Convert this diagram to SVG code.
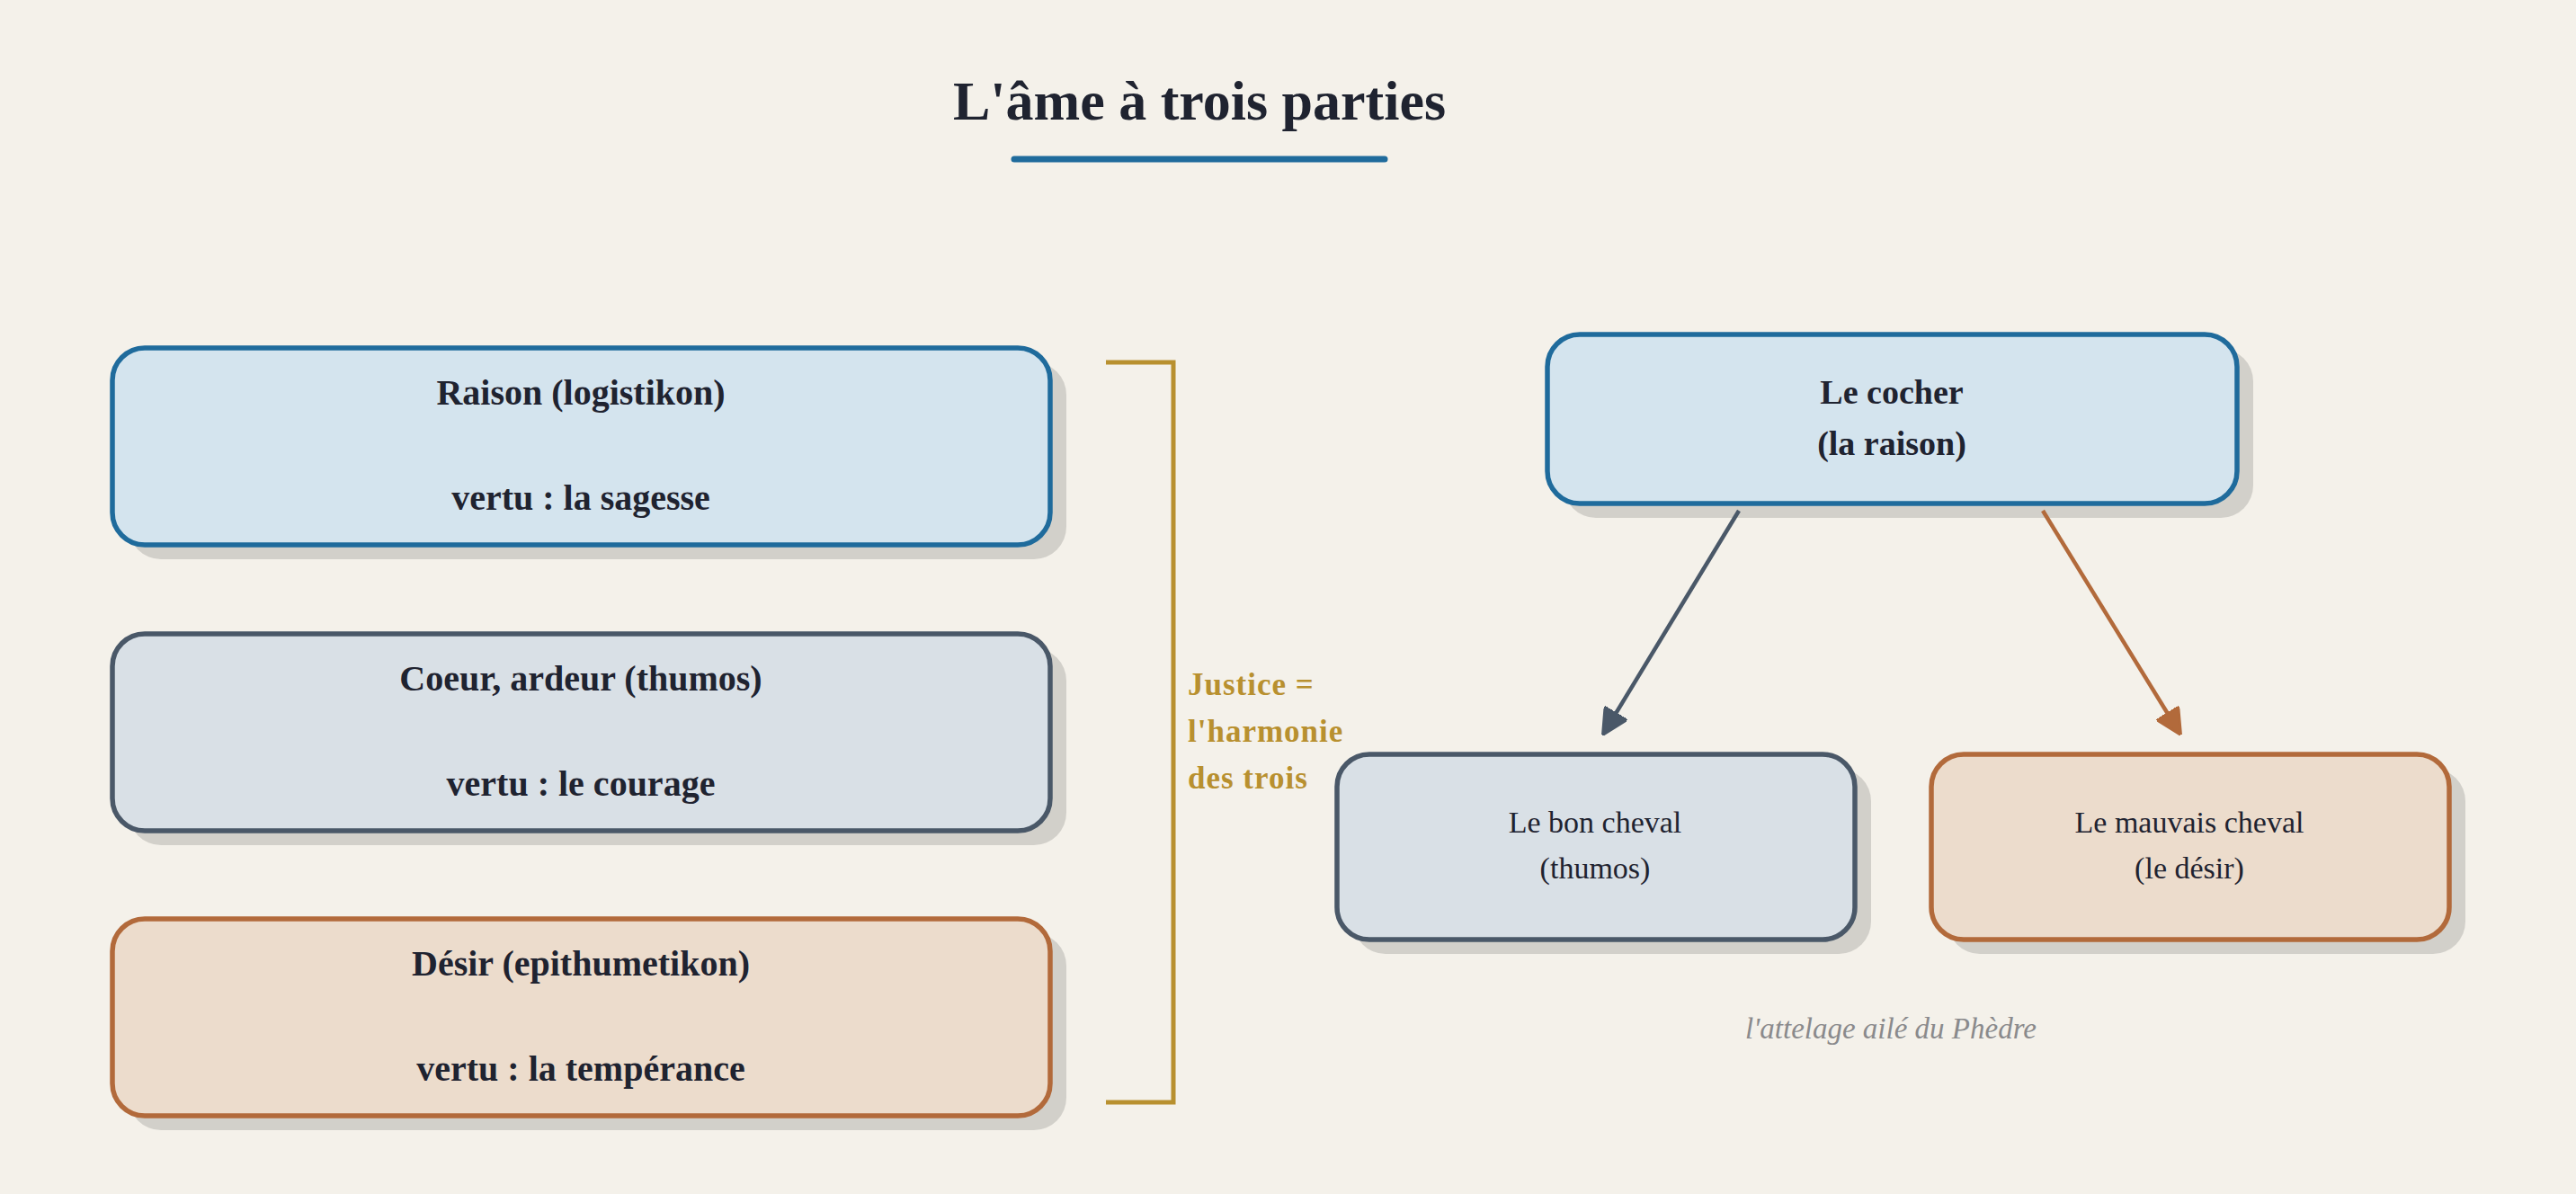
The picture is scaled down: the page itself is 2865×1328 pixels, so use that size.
<svg xmlns="http://www.w3.org/2000/svg" width="2865" height="1328" viewBox="0 0 2865 1328">
<style>
.bg{fill:#f4f1ea}
.sh{fill:#d2d0ca}
.blue{fill:#d4e4ee;stroke:#1f6b9c;stroke-width:5.5}
.slate{fill:#d9e0e6;stroke:#4a5868;stroke-width:5.5}
.orange{fill:#ecdccc;stroke:#b26a3b;stroke-width:5.5}
.tb{font-family:"Liberation Serif",serif;font-weight:bold;fill:#1f2330;text-anchor:middle}
.tn{font-family:"Liberation Serif",serif;fill:#1f2330;text-anchor:middle}
.gold{font-family:"Liberation Serif",serif;font-weight:bold;fill:#b8902f;font-size:35px;letter-spacing:1px}
</style>
<defs>
<marker id="ah-slate" viewBox="0 0 10 10" refX="9" refY="5" markerWidth="6.5" markerHeight="6.5" markerUnits="strokeWidth" orient="auto">
<path d="M0,0 L10,5 L0,10 z" fill="#4a5868" stroke="#4a5868" stroke-linejoin="round"/>
</marker>
<marker id="ah-orange" viewBox="0 0 10 10" refX="9" refY="5" markerWidth="6.5" markerHeight="6.5" markerUnits="strokeWidth" orient="auto">
<path d="M0,0 L10,5 L0,10 z" fill="#b26a3b" stroke="#b26a3b" stroke-linejoin="round"/>
</marker>
</defs>
<rect class="bg" x="0" y="0" width="2865" height="1328"/>
<g id="title">
<text class="tb" x="1334" y="133" font-size="62">L'âme à trois parties</text>
<line x1="1128" y1="177" x2="1540" y2="177" stroke="#1f6b9c" stroke-width="7" stroke-linecap="round"/>
</g>
<g id="raison">
<rect class="sh" x="143" y="403" width="1043" height="219" rx="36"/>
<rect class="blue" x="125" y="387" width="1043" height="219" rx="36"/>
<text class="tb" x="646" y="450" font-size="40">Raison (logistikon)</text>
<text class="tb" x="646" y="567" font-size="40">vertu : la sagesse</text>
</g>
<g id="coeur">
<rect class="sh" x="143" y="721" width="1043" height="219" rx="36"/>
<rect class="slate" x="125" y="705" width="1043" height="219" rx="36"/>
<text class="tb" x="646" y="768" font-size="40">Coeur, ardeur (thumos)</text>
<text class="tb" x="646" y="885" font-size="40">vertu : le courage</text>
</g>
<g id="desir">
<rect class="sh" x="143" y="1038" width="1043" height="219" rx="36"/>
<rect class="orange" x="125" y="1022" width="1043" height="219" rx="36"/>
<text class="tb" x="646" y="1085" font-size="40">Désir (epithumetikon)</text>
<text class="tb" x="646" y="1202" font-size="40">vertu : la tempérance</text>
</g>
<g id="justice">
<path d="M1230,403 H1305 V1226 H1230" fill="none" stroke="#b8902f" stroke-width="5"/>
<text class="gold" x="1321" y="773">Justice =</text>
<text class="gold" x="1321" y="825">l'harmonie</text>
<text class="gold" x="1321" y="877">des trois</text>
</g>
<g id="cocher">
<rect class="sh" x="1739" y="388" width="767" height="188" rx="36"/>
<rect class="blue" x="1721" y="372" width="767" height="188" rx="36"/>
<text class="tb" x="2104" y="449" font-size="38">Le cocher</text>
<text class="tb" x="2104" y="506" font-size="38">(la raison)</text>
</g>
<g id="bon-cheval">
<rect class="sh" x="1505" y="855" width="576" height="206" rx="36"/>
<rect class="slate" x="1487" y="839" width="576" height="206" rx="36"/>
<text class="tn" x="1774" y="926" font-size="34">Le bon cheval</text>
<text class="tn" x="1774" y="977" font-size="34">(thumos)</text>
</g>
<g id="mauvais-cheval">
<rect class="sh" x="2166" y="855" width="576" height="206" rx="36"/>
<rect class="orange" x="2148" y="839" width="576" height="206" rx="36"/>
<text class="tn" x="2435" y="926" font-size="34">Le mauvais cheval</text>
<text class="tn" x="2435" y="977" font-size="34">(le désir)</text>
</g>
<g id="connectors">
<line x1="1934" y1="568" x2="1784" y2="815" stroke="#4a5868" stroke-width="4.5" marker-end="url(#ah-slate)"/>
<line x1="2272" y1="568" x2="2424" y2="815" stroke="#b26a3b" stroke-width="4.5" marker-end="url(#ah-orange)"/>
</g>
<g id="caption">
<text x="2103" y="1155" font-family="Liberation Serif, serif" font-style="italic" font-size="33" fill="#8a8a8c" text-anchor="middle">l'attelage ailé du Phèdre</text>
</g>
</svg>
